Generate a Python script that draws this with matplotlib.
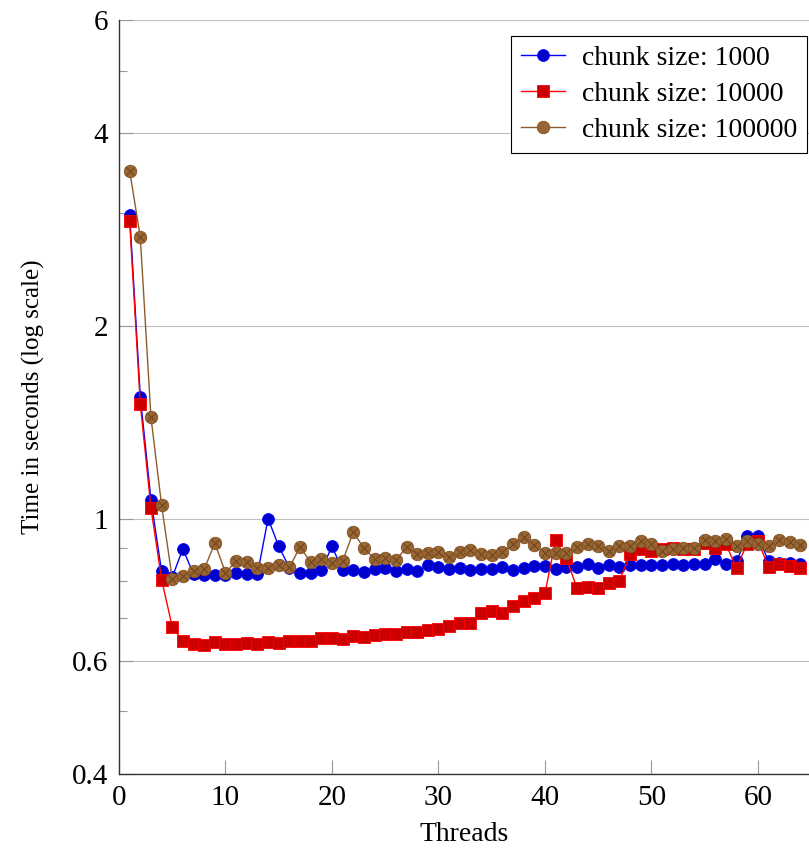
import matplotlib
matplotlib.use("Agg")
import matplotlib.pyplot as plt
from matplotlib.ticker import FixedLocator, NullFormatter

plt.rcParams['font.family'] = ['Liberation Serif', 'DejaVu Serif']

threads = list(range(1, 65))

chunk_1000 = [2.98, 1.55, 1.07, 0.827, 0.81, 0.897, 0.818, 0.815, 0.815, 0.815,
              0.821, 0.818, 0.818, 1.0, 0.905, 0.838, 0.823, 0.823, 0.83, 0.905,
              0.83, 0.83, 0.826, 0.833, 0.837, 0.827, 0.833, 0.827, 0.845, 0.841,
              0.833, 0.836, 0.83, 0.833, 0.835, 0.841, 0.83, 0.836, 0.843, 0.843,
              0.833, 0.839, 0.841, 0.848, 0.836, 0.845, 0.841, 0.847, 0.845, 0.845,
              0.845, 0.848, 0.845, 0.848, 0.848, 0.865, 0.848, 0.858, 0.938, 0.938,
              0.858, 0.853, 0.853, 0.848]

chunk_10000 = [2.91, 1.51, 1.039, 0.803, 0.678, 0.643, 0.638, 0.634, 0.641, 0.637,
               0.637, 0.640, 0.636, 0.641, 0.640, 0.643, 0.643, 0.643, 0.650, 0.651,
               0.649, 0.655, 0.653, 0.658, 0.661, 0.661, 0.665, 0.665, 0.669, 0.673,
               0.679, 0.688, 0.686, 0.713, 0.717, 0.713, 0.730, 0.743, 0.752, 0.764,
               0.925, 0.868, 0.78, 0.782, 0.78, 0.792, 0.80, 0.879, 0.895, 0.889,
               0.895, 0.90, 0.897, 0.897, 0.916, 0.90, 0.911, 0.838, 0.914, 0.922,
               0.841, 0.85, 0.843, 0.838]

chunk_100000 = [3.49, 2.75, 1.44, 1.049, 0.806, 0.813, 0.827, 0.833, 0.916, 0.823,
                0.858, 0.855, 0.838, 0.836, 0.845, 0.839, 0.903, 0.855, 0.865, 0.853,
                0.858, 0.953, 0.899, 0.865, 0.868, 0.861, 0.902, 0.879, 0.882, 0.886,
                0.87, 0.886, 0.894, 0.879, 0.876, 0.887, 0.911, 0.936, 0.909, 0.883,
                0.883, 0.884, 0.903, 0.913, 0.907, 0.891, 0.905, 0.907, 0.924, 0.913,
                0.891, 0.895, 0.898, 0.898, 0.927, 0.924, 0.93, 0.905, 0.924, 0.911,
                0.905, 0.927, 0.92, 0.909]

labels = ['chunk size: 1000', 'chunk size: 10000', 'chunk size: 100000']

W, H = 809, 849
fig = plt.figure(figsize=(W / 100, H / 100), dpi=100)
ax = fig.add_axes([119 / W, 1 - 773.5 / H, 1 - 119 / W, (773.5 - 20) / H])

blue, red, brown = (0, 0, 1), (1, 0, 0), (0.55, 0.36, 0.18)

ax.plot(threads, chunk_1000, color=blue, lw=1.0, marker='o', ms=8.5,
        mfc=(0, 0, 0.8), mec=blue, mew=0.6, label=labels[0], zorder=3)
ax.plot(threads, chunk_10000, color=red, lw=1.0, marker='s', ms=8,
        mfc=(0.8, 0, 0), mec=red, mew=0.6, label=labels[1], zorder=4)
ax.plot(threads, chunk_100000, color=brown, lw=1.0, marker='o', ms=9,
        mfc=(0.6, 0.4, 0.2), mec=(0.5, 0.32, 0.15), mew=0.6, label=labels[2], zorder=5)
# cross inside the brown markers (otimes)
ax.plot(threads, chunk_100000, ls='none', marker='x', ms=5.5,
        mec=(0.42, 0.26, 0.1), mew=0.7, zorder=6)

ax.set_yscale('log')
ax.set_ylim(0.4, 6)
ax.set_xlim(0, 64.8)

major = [0.4, 0.6, 1, 2, 4, 6]
minor = [0.5, 0.7, 0.8, 0.9, 3, 5]
ax.yaxis.set_major_locator(FixedLocator(major))
ax.yaxis.set_minor_locator(FixedLocator(minor))
ax.set_yticklabels(['0.4', '0.6', '1', '2', '4', '6'])
ax.yaxis.set_minor_formatter(NullFormatter())
ax.set_xticks([0, 10, 20, 30, 40, 50, 60])

ax.tick_params(axis='both', which='major', direction='in', length=10,
               width=0.8, color='#999999', labelsize=21, pad=8)
ax.tick_params(axis='y', which='minor', direction='in', length=6,
               width=0.8, color='#999999')
ax.tick_params(axis='y', which='major', pad=8)

ax.grid(True, axis='y', which='major', color='#c0c0c0', lw=0.8)
ax.set_axisbelow(True)

for s in ['top', 'right']:
    ax.spines[s].set_visible(False)
for s in ['left', 'bottom']:
    ax.spines[s].set_color('#333333')
    ax.spines[s].set_linewidth(1.0)

ax.set_xlabel('Threads', fontsize=20, labelpad=8)
ax.set_ylabel('Time in seconds (log scale)', fontsize=18, labelpad=19)

leg = ax.legend(loc='upper right', bbox_to_anchor=(807 / W, 1 - 36 / H),
                bbox_transform=fig.transFigure, fontsize=20, frameon=True,
                fancybox=False, edgecolor='black', framealpha=1,
                handlelength=1.6, handletextpad=0.6, borderpad=0.35,
                labelspacing=0.38, borderaxespad=0)
leg.get_frame().set_linewidth(0.8)

fig.savefig('out.png', dpi=100)
